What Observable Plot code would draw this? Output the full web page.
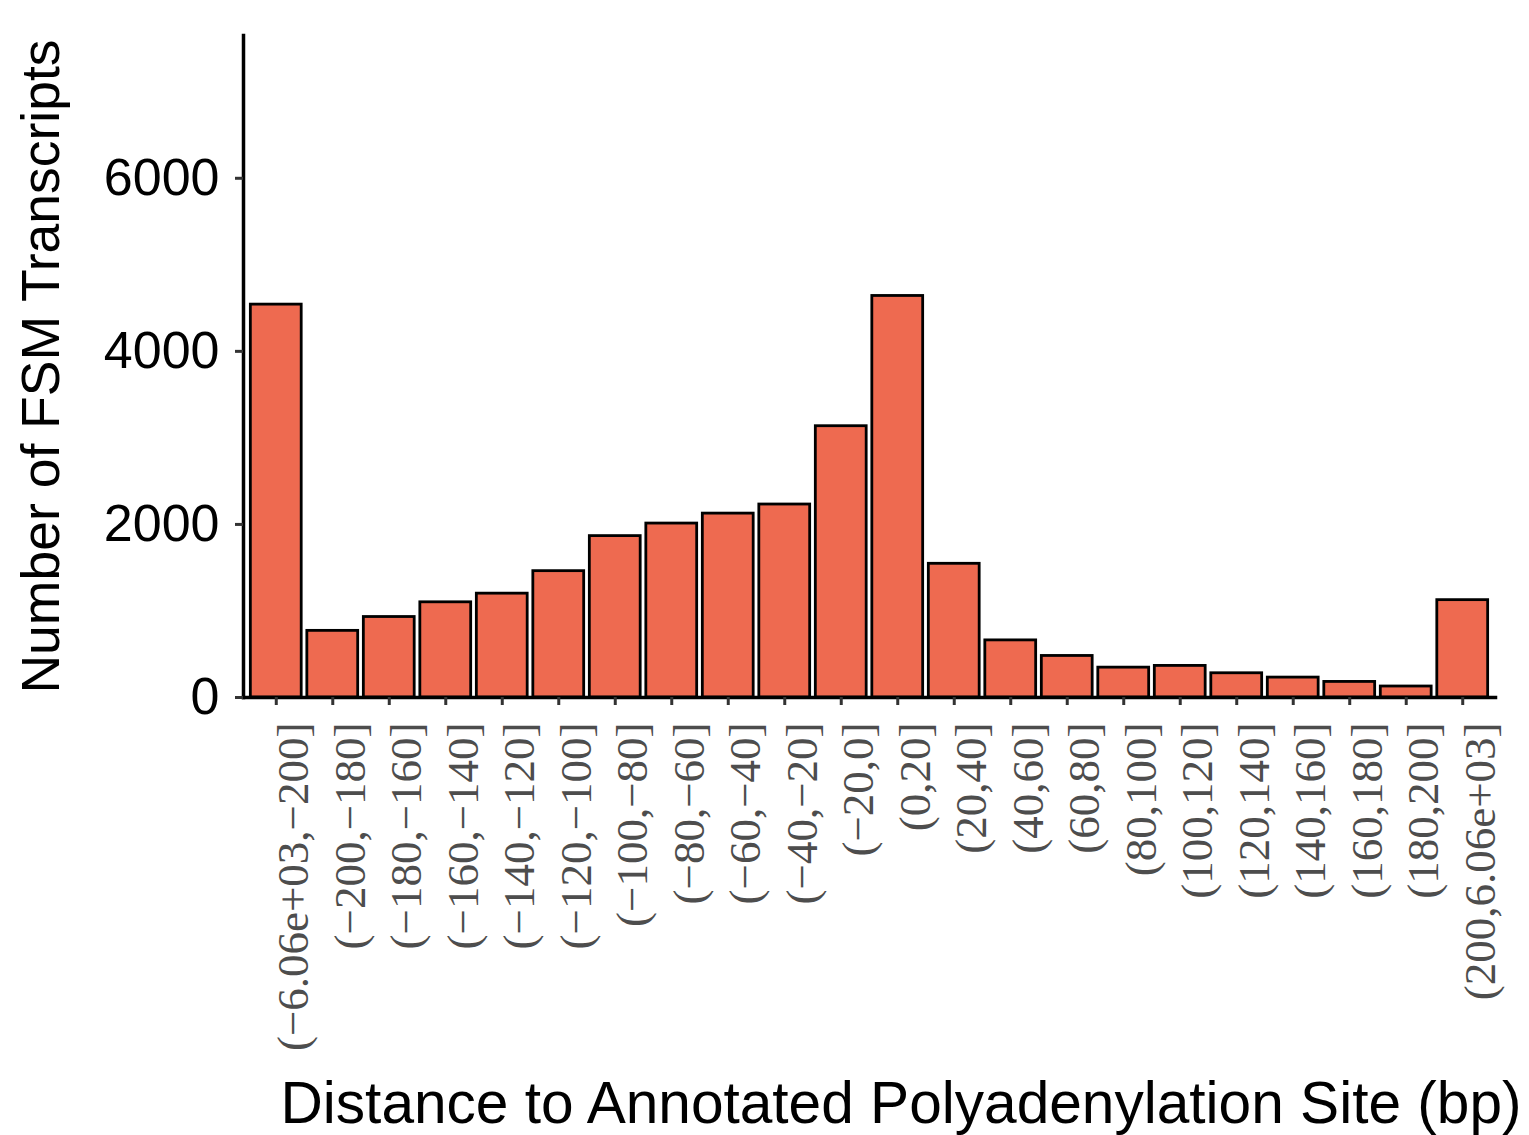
<!DOCTYPE html>
<html>
<head>
<meta charset="utf-8">
<script src="https://cdn.jsdelivr.net/npm/d3@7"></script>
<script src="https://cdn.jsdelivr.net/npm/@observablehq/plot@0.6"></script>
<style>
  html, body { margin: 0; padding: 0; background: #ffffff; }
  #chart svg { display: block; }
</style>
</head>
<body>
<div id="chart"></div>
<script>
// Distance bins (bp) relative to the annotated polyadenylation site
const bins = [
  "(−6.06e+03,−200]", "(−200,−180]", "(−180,−160]", "(−160,−140]", "(−140,−120]",
  "(−120,−100]", "(−100,−80]", "(−80,−60]", "(−60,−40]", "(−40,−20]", "(−20,0]",
  "(0,20]", "(20,40]", "(40,60]", "(60,80]", "(80,100]", "(100,120]", "(120,140]",
  "(140,160]", "(160,180]", "(180,200]", "(200,6.06e+03]"
];

// Number of FSM transcripts in each bin
const counts = [
  4540, 770, 930, 1100, 1200, 1460, 1865, 2010, 2125, 2230, 3135,
  4640, 1545, 660, 480, 345, 365, 280, 230, 180, 127, 1125
];

// y-axis tick values
const yTicks = [0, 2000, 4000, 6000];

const yTitle = "Number of FSM Transcripts";
const xTitle = "Distance to Annotated Polyadenylation Site (bp)";

const data = bins.map((bin, i) => ({bin, count: counts[i]}));

const sans = "Liberation Sans, Arial, Helvetica, sans-serif";
const serif = "Liberation Serif, Times New Roman, serif";

const chart = Plot.plot({
  width: 1529,
  height: 1135,
  marginLeft: 243,
  marginRight: 34,
  marginTop: 35,
  marginBottom: 438,
  style: {background: "#ffffff", color: "#000000", fontFamily: sans},
  x: {domain: bins, paddingInner: 0.1, paddingOuter: 0.13, round: false},
  y: {domain: [0, 7650]},
  marks: [
    Plot.barY(data, {
      x: "bin",
      y: "count",
      fill: "#EE6A50",
      stroke: "#000000",
      strokeWidth: 2.8
    }),
    Plot.frame({anchor: "left", stroke: "#000000", strokeWidth: 3.5}),
    Plot.frame({anchor: "bottom", stroke: "#000000", strokeWidth: 3.5}),
    Plot.axisY({
      ticks: yTicks,
      tickFormat: d3.format("d"),
      tickSize: 8,
      tickPadding: 16,
      stroke: "#333333",
      strokeWidth: 3,
      fill: "#000000",
      fontSize: 52,
      fontFamily: sans,
      label: null
    }),
    // y-axis title, rotated along the left edge
    Plot.text([yTitle], {
      frameAnchor: "left",
      rotate: -90,
      textAnchor: "middle",
      lineAnchor: "top",
      dx: -223,
      fontSize: 53.5,
      fontFamily: sans,
      fill: "#000000"
    }),
    // tick marks only; the bin labels are drawn below in a serif face
    Plot.axisX({
      tickSize: 8,
      stroke: "#333333",
      strokeWidth: 3,
      fill: "none",
      label: null
    }),
    Plot.text(bins, {
      x: (d) => d,
      frameAnchor: "bottom",
      rotate: -90,
      textAnchor: "end",
      lineAnchor: "top",
      dy: 25,
      fontSize: 45,
      fontFamily: serif,
      fill: "#4d4d4d"
    }),
    Plot.text([xTitle], {
      frameAnchor: "bottom-right",
      textAnchor: "end",
      lineAnchor: "bottom",
      dx: 26,
      dy: 425,
      fontSize: 58.6,
      fontFamily: sans,
      fill: "#000000"
    })
  ]
});

document.getElementById("chart").appendChild(chart);
</script>
</body>
</html>
